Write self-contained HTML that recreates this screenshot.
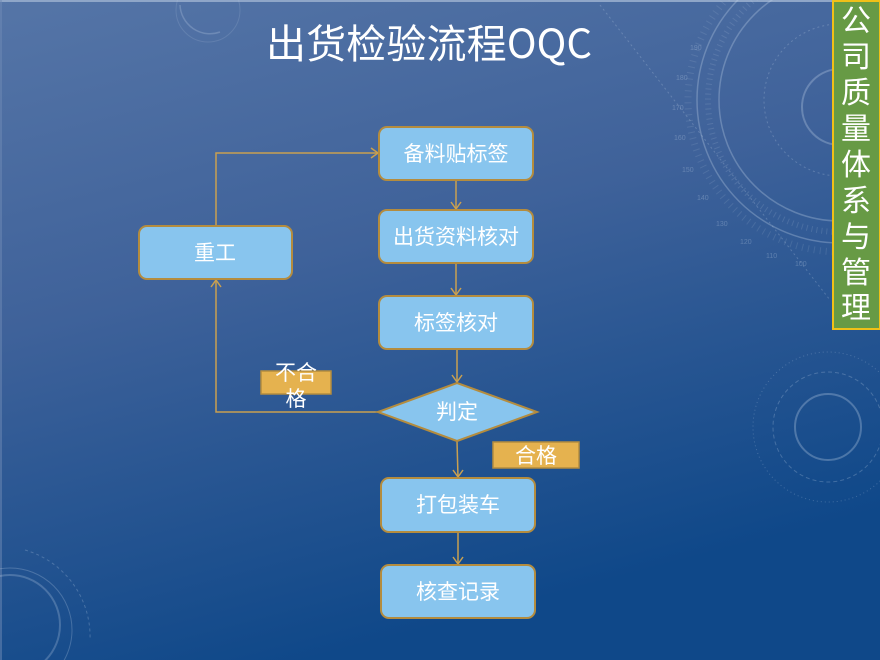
<!DOCTYPE html>
<html><head><meta charset="utf-8"><style>
html,body{margin:0;padding:0;}
body{width:880px;height:660px;overflow:hidden;}
svg{display:block;}
text{font-family:"Liberation Sans","Noto Sans CJK SC",sans-serif;}
</style></head><body>
<svg width="880" height="660" viewBox="0 0 880 660" xmlns="http://www.w3.org/2000/svg">
<defs>
<linearGradient id="bg" x1="0" y1="0" x2="0.35" y2="1">
<stop offset="0" stop-color="#5575a7"/>
<stop offset="0.45" stop-color="#3f629a"/>
<stop offset="1" stop-color="#0f4889"/>
</linearGradient>
</defs>
<rect width="880" height="660" fill="url(#bg)"/>
<line x1="0" y1="1" x2="880" y2="1" stroke="#8fa6c8" stroke-width="2"/>
<line x1="1" y1="0" x2="1" y2="660" stroke="#6f8ab5" stroke-width="1"/>

<!-- decorations -->
<g fill="none" stroke="#c8d6ea" stroke-opacity="0.3">
 <circle cx="840" cy="100" r="143" stroke-width="1.5"/>
 <circle cx="840" cy="100" r="121" stroke-width="1.5"/>
 <circle cx="840" cy="100" r="132" stroke-width="6" stroke-dasharray="1 4" stroke-opacity="0.15"/>
 <circle cx="840" cy="100" r="152" stroke-width="7" stroke-dasharray="1 5" stroke-opacity="0.13"/>
 <circle cx="840" cy="100" r="76" stroke-width="1" stroke-dasharray="2 3" stroke-opacity="0.25"/>
 <circle cx="840" cy="107" r="38" stroke-width="2"/>
 <line x1="600" y1="5" x2="830" y2="300" stroke-dasharray="2 3" stroke-width="1" stroke-opacity="0.25"/>
 <path d="M180 5 A30 30 0 0 0 220 32" stroke-width="1.5" stroke-opacity="0.25"/>
 <circle cx="208" cy="10" r="32" stroke-width="1" stroke-opacity="0.15"/>
 <circle cx="828" cy="427" r="33" stroke-width="2" stroke-opacity="0.3"/>
 <circle cx="828" cy="427" r="55" stroke-width="1" stroke-dasharray="4 3" stroke-opacity="0.25"/>
 <circle cx="828" cy="427" r="75" stroke-width="1" stroke-dasharray="1 3" stroke-opacity="0.25"/>
 <circle cx="10" cy="625" r="50" stroke-width="2" stroke-opacity="0.25"/>
 <circle cx="10" cy="630" r="62" stroke-width="1" stroke-opacity="0.25"/>
 <path d="M25 550 A90 90 0 0 1 90 640" stroke-dasharray="3 3" stroke-width="1" stroke-opacity="0.25"/>
</g>
<g font-size="7" fill="#c8d6ea" fill-opacity="0.3" font-family="Liberation Mono, monospace">
<text x="690" y="50">190</text>
<text x="676" y="80">180</text>
<text x="672" y="110">170</text>
<text x="674" y="140">160</text>
<text x="682" y="172">150</text>
<text x="697" y="200">140</text>
<text x="716" y="226">130</text>
<text x="740" y="244">120</text>
<text x="766" y="258">110</text>
<text x="795" y="266">100</text>
</g>

<!-- title -->
<text x="429" y="58" font-size="40" fill="#ffffff" text-anchor="middle" textLength="326" style='font-family:"Noto Sans CJK SC",sans-serif'>出货检验流程OQC</text>

<!-- sidebar -->
<rect x="833" y="1" width="47" height="328" fill="#679a45" stroke="#f0c018" stroke-width="2"/>
<g font-size="30" fill="#ffffff" text-anchor="middle" style='font-family:"Noto Sans CJK SC",sans-serif'>
<text x="856" y="31">公</text>
<text x="856" y="67">司</text>
<text x="856" y="103">质</text>
<text x="856" y="139">量</text>
<text x="856" y="175">体</text>
<text x="856" y="211">系</text>
<text x="856" y="247">与</text>
<text x="856" y="283">管</text>
<text x="856" y="318">理</text>
</g>

<!-- connectors -->
<g fill="none" stroke="#c9a050" stroke-width="1.5">
 <line x1="456" y1="180" x2="456" y2="209"/>
 <polyline points="451,202 456,209 461,202"/>
 <line x1="456" y1="263" x2="456" y2="295"/>
 <polyline points="451,288 456,295 461,288"/>
 <line x1="457" y1="349" x2="457" y2="382"/>
 <polyline points="452,375 457,382 462,375"/>
 <line x1="457" y1="441" x2="458" y2="477"/>
 <polyline points="453,470 458,477 463,470"/>
 <line x1="458" y1="532" x2="458" y2="564"/>
 <polyline points="453,557 458,564 463,557"/>
 <polyline points="378,412 216,412 216,280"/>
 <polyline points="211,287 216,280 221,287"/>
 <polyline points="216,226 216,153 378,153"/>
 <polyline points="371,148 378,153 371,158"/>
</g>

<!-- nodes -->
<g fill="#88c5ee" stroke="#b48c3e" stroke-width="2">
 <rect x="379" y="127" width="154" height="53" rx="8"/>
 <rect x="379" y="210" width="154" height="53" rx="8"/>
 <rect x="379" y="296" width="154" height="53" rx="8"/>
 <rect x="139" y="226" width="153" height="53" rx="8"/>
 <polygon points="378,412 457,383 537,412 457,441"/>
 <rect x="381" y="478" width="154" height="54" rx="8"/>
 <rect x="381" y="565" width="154" height="53" rx="8"/>
</g>
<g fill="#e5b24f" stroke="#b48c3e" stroke-width="1.5">
 <rect x="261" y="371" width="70" height="23"/>
 <rect x="493" y="442" width="86" height="26"/>
</g>

<g font-size="21" fill="#ffffff" text-anchor="middle" style='font-family:"Noto Sans CJK SC",sans-serif'>
<text x="456" y="161">备料贴标签</text>
<text x="456" y="244">出货资料核对</text>
<text x="456" y="330">标签核对</text>
<text x="215" y="260">重工</text>
<text x="457" y="419">判定</text>
<text x="458" y="512">打包装车</text>
<text x="458" y="599">核查记录</text>
<text x="296" y="380">不合</text>
<text x="296" y="406">格</text>
<text x="536" y="463">合格</text>
</g>
</svg>
</body></html>
